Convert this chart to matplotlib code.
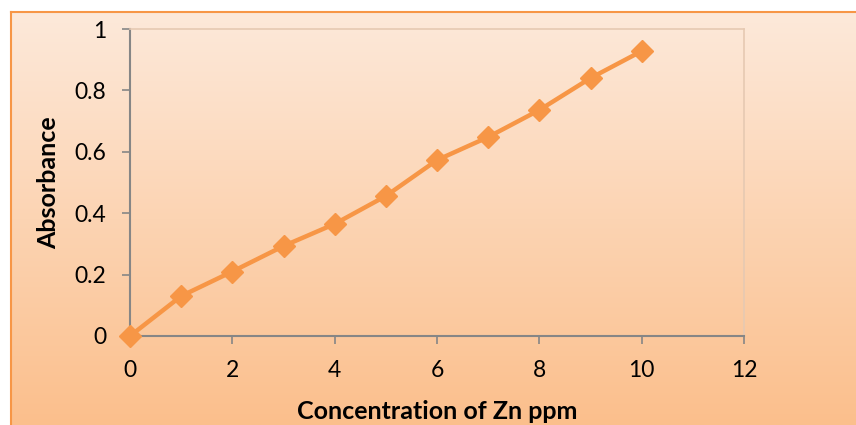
"""
plot.py - Zn calibration curve (absorbance vs concentration)
"""

import matplotlib
matplotlib.use('Agg')
import matplotlib.pyplot as plt
import numpy as np
from matplotlib.colors import LinearSegmentedColormap

conc_ppm = [0, 1, 2, 3, 4, 5, 6, 7, 8, 9, 10]
absorbance = [0.0, 0.13, 0.21, 0.293, 0.365, 0.456, 0.573, 0.648, 0.736, 0.84, 0.928]
x_ticks = [0, 2, 4, 6, 8, 10, 12]
y_ticks = [0, 0.2, 0.4, 0.6, 0.8, 1]
y_tick_labels = ['0', '0.2', '0.4', '0.6', '0.8', '1']

plt.rcParams['font.family'] = ['Lato', 'DejaVu Sans']

fig = plt.figure(figsize=(8.56, 4.25), dpi=100)

# gradient background panel with orange border
left, top = 11 / 856, 1 - 12 / 425
bg = fig.add_axes([left, 0, 1 - left, top])
grad = LinearSegmentedColormap.from_list('peach', ['#fbbf8c', '#fde9da'])
bg.imshow(np.linspace(0, 1, 256).reshape(-1, 1), aspect='auto', cmap=grad,
          origin='lower', extent=[0, 1, 0, 1])
bg.set_xlim(0, 1)
bg.set_ylim(0, 1)
bg.set_xticks([])
bg.set_yticks([])
for side in ['left', 'top']:
    bg.spines[side].set_color('#f79646')
    bg.spines[side].set_linewidth(1.5)
for side in ['right', 'bottom']:
    bg.spines[side].set_visible(False)

ax = fig.add_axes([130 / 856, 1 - 336 / 425, 614 / 856, 307 / 425])
ax.patch.set_alpha(0)
ax.plot(conc_ppm, absorbance, color='#f79646', linewidth=3.2, marker='D',
        markersize=11, clip_on=False, zorder=5)

ax.set_xlim(0, 12)
ax.set_ylim(0, 1)
ax.set_xticks(x_ticks)
ax.set_yticks(y_ticks)
ax.set_yticklabels(y_tick_labels)
ax.tick_params(axis='both', direction='out', length=6, width=1.2,
               color='#868686', labelsize=16.5, labelcolor='black')
ax.tick_params(axis='x', pad=11)
ax.tick_params(axis='y', pad=11)

for side in ['left', 'bottom']:
    ax.spines[side].set_color('#868686')
    ax.spines[side].set_linewidth(1.5)
for side in ['top', 'right']:
    ax.spines[side].set_color('#e6c9b2')
    ax.spines[side].set_linewidth(1.2)

ax.set_xlabel('Concentration of Zn ppm', fontsize=18, fontweight='bold', labelpad=14)
ax.set_ylabel('Absorbance', fontsize=18, fontweight='bold', labelpad=10)

fig.savefig('out.png', dpi=100)
